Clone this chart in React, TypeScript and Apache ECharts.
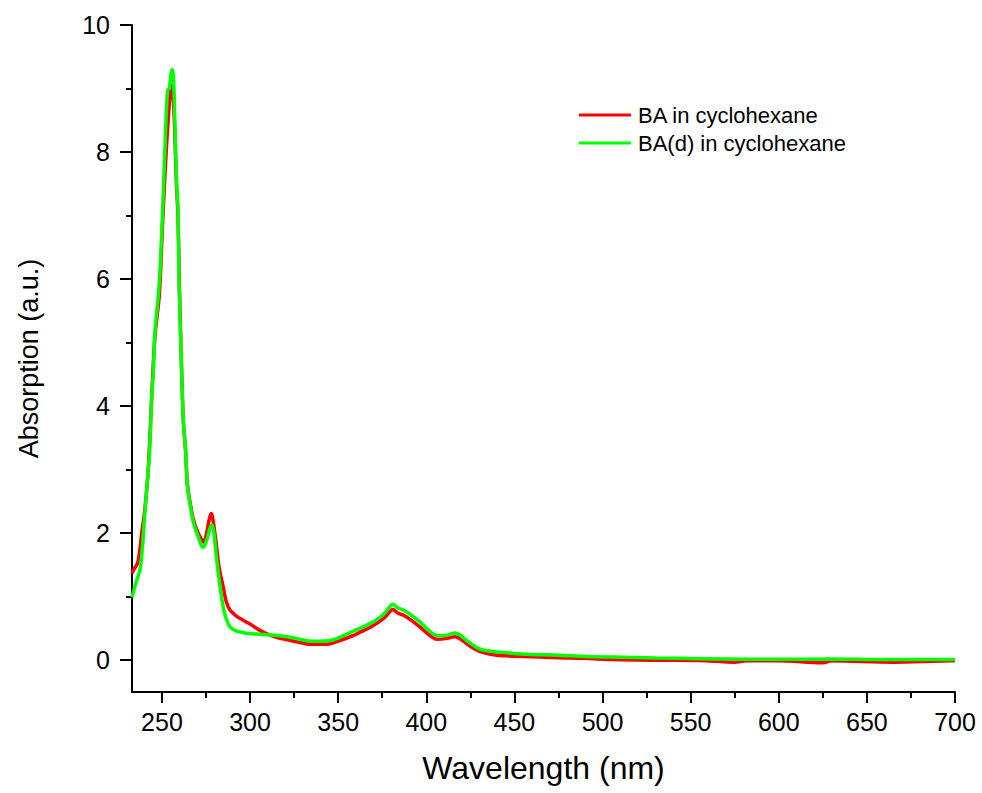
import React, { useEffect, useRef } from "react";
import * as echarts from "echarts";

const xTickValues = [250, 300, 350, 400, 450, 500, 550, 600, 650, 700];
const xMinorValues = [275, 325, 375, 425, 475, 525, 575, 625, 675];
const yTickValues = [0, 2, 4, 6, 8, 10];
const yMinorValues = [1, 3, 5, 7, 9];

const seriesNames = ["BA in cyclohexane", "BA(d) in cyclohexane"];

const baWavelength = [
  233, 234.5, 236.2, 237.5, 238.5, 240, 242.2, 244.1, 246, 248.5, 250.4, 252, 253.5, 254.7, 255.5, 256.3,
  257.3, 258.2, 259.1, 259.8, 261.1, 262.1, 263.4, 264.5, 266.8, 268.5, 270.6, 272.5, 273.4, 274.5, 276,
  277.3, 278.1, 279, 280.5, 282.5, 284.8, 286.5, 288.6, 292, 296.1, 300, 305.6, 310, 315, 319.8, 325, 330,
  334.1, 340, 345.5, 350, 355, 358.7, 363, 368.2, 373, 377, 381, 384, 387, 391, 396.5, 401, 406, 411, 416.4,
  419, 423, 428, 432.4, 440, 445.7, 449.5, 460, 475, 490, 506.2, 530, 555, 575, 581.8, 600, 625, 630, 665,
  699, 700,
];
const baAbsorption = [
  1.37, 1.45, 1.53, 1.75, 2.0, 2.3, 2.99, 4.09, 5.1, 5.75, 6.9, 7.8, 8.5, 8.93, 9.05, 8.9,
  8.3, 7.5, 7.0, 6.0, 4.6, 3.78, 3.3, 2.75, 2.35, 2.15, 2.0, 1.9, 1.86, 1.9, 2.1,
  2.27, 2.31, 2.2, 1.9, 1.45, 1.15, 0.92, 0.79, 0.7, 0.63, 0.57, 0.47, 0.41, 0.36, 0.33, 0.3, 0.27,
  0.25, 0.25, 0.26, 0.3, 0.35, 0.39, 0.45, 0.52, 0.6, 0.69, 0.8, 0.74, 0.71, 0.64, 0.52, 0.41, 0.33, 0.34, 0.37,
  0.34, 0.26, 0.17, 0.12, 0.08, 0.07, 0.063, 0.055, 0.04, 0.03, 0.01, 0.0, -0.005, -0.03, -0.01, -0.01, -0.04, -0.01, -0.03,
  -0.01, -0.01,
];

const badWavelength = [
  233, 235, 237.5, 239, 240, 242.2, 243, 244.1, 245, 246, 248.5, 250.4, 252, 253.2, 254.2, 255, 255.7,
  256.5, 257.3, 258.2, 259.1, 259.7, 261.1, 262.1, 263.4, 264.5, 266.8, 268.5, 270.6, 272.5, 273.4, 274.5,
  276, 277.5, 278.5, 279.5, 281, 283, 285, 286.7, 288.5, 291.4, 295, 299, 305.8, 310, 315, 320.9, 325, 330,
  334.1, 340, 345.5, 350, 355, 358.7, 363, 368.2, 373, 377, 381, 384, 387, 391, 396.5, 401, 406, 411, 416.4,
  419, 423, 428, 432.4, 440, 445.7, 449.5, 460, 475, 490, 506.2, 530, 555, 581.8, 600, 630, 660, 699, 700,
];
const badAbsorption = [
  0.99, 1.2, 1.42, 1.8, 2.2, 2.99, 3.3, 4.09, 4.5, 5.15, 5.94, 7.09, 8.3, 8.97, 9.0, 9.2, 9.3,
  9.2, 8.5, 7.6, 7.09, 5.94, 4.61, 3.78, 3.31, 2.73, 2.31, 2.1, 1.94, 1.8, 1.78, 1.82,
  1.95, 2.1, 2.13, 2.0, 1.6, 1.15, 0.8, 0.63, 0.53, 0.47, 0.44, 0.42, 0.41, 0.4, 0.39, 0.37, 0.35, 0.32,
  0.3, 0.3, 0.31, 0.35, 0.41, 0.46, 0.51, 0.58, 0.66, 0.76, 0.88, 0.82, 0.79, 0.72, 0.6, 0.48, 0.39, 0.39, 0.43,
  0.4, 0.31, 0.21, 0.16, 0.13, 0.12, 0.105, 0.09, 0.08, 0.06, 0.05, 0.035, 0.025, 0.016, 0.015, 0.02, 0.01, 0.01, 0.01,
];

const FONT = "'Liberation Sans', Arial, sans-serif";

export default function App() {
  const ref = useRef<HTMLDivElement>(null);
  useEffect(() => {
    if (!ref.current) return;
    const chart = echarts.init(ref.current, null, { renderer: "svg" });
    const baData = baWavelength.map((w, i) => [w, baAbsorption[i]]);
    const badData = badWavelength.map((w, i) => [w, badAbsorption[i]]);
    const axisLine = { show: true, onZero: false, lineStyle: { color: "#000", width: 2 } };
    chart.setOption({
      animation: false,
      backgroundColor: "#fff",
      textStyle: { fontFamily: FONT },
      grid: { left: 132, right: 27, top: 25, bottom: 101 },
      legend: {
        data: seriesNames,
        orient: "vertical",
        left: 574,
        top: 99,
        icon: "rect",
        itemWidth: 52,
        itemHeight: 3,
        itemGap: 6,
        textStyle: { fontSize: 22, color: "#000", fontFamily: FONT, padding: [0, 0, 0, 2] },
      },
      xAxis: [
        {
          type: "value",
          min: 233,
          max: 700,
          name: "Wavelength (nm)",
          nameLocation: "middle",
          nameGap: 60,
          nameTextStyle: { fontSize: 32, color: "#000", fontFamily: FONT },
          axisLine,
          axisTick: { show: true, length: 11, inside: false, customValues: xTickValues, lineStyle: { color: "#000", width: 2 } },
          axisLabel: { show: true, customValues: xTickValues, fontSize: 25, color: "#000", margin: 17, fontFamily: FONT },
          splitLine: { show: false },
        },
        {
          type: "value",
          min: 233,
          max: 700,
          position: "bottom",
          axisLine: { show: false, onZero: false },
          axisTick: { show: true, length: 6, customValues: xMinorValues, lineStyle: { color: "#000", width: 2 } },
          axisLabel: { show: false },
          splitLine: { show: false },
        },
      ],
      yAxis: [
        {
          type: "value",
          min: -0.5,
          max: 10,
          name: "Absorption (a.u.)",
          nameLocation: "middle",
          nameRotate: 90,
          nameGap: 90,
          nameTextStyle: { fontSize: 27, color: "#000", fontFamily: FONT },
          axisLine,
          axisTick: { show: true, length: 12, customValues: yTickValues, lineStyle: { color: "#000", width: 2 } },
          axisLabel: { show: true, customValues: yTickValues, fontSize: 25, color: "#000", margin: 22, fontFamily: FONT },
          splitLine: { show: false },
        },
        {
          type: "value",
          min: -0.5,
          max: 10,
          position: "left",
          axisLine: { show: false, onZero: false },
          axisTick: { show: true, length: 6, customValues: yMinorValues, lineStyle: { color: "#000", width: 2 } },
          axisLabel: { show: false },
          splitLine: { show: false },
        },
      ],
      series: [
        {
          name: seriesNames[0],
          type: "line",
          data: baData,
          showSymbol: false,
          symbol: "none",
          color: "#ff0000",
          lineStyle: { color: "#ff0000", width: 3.5 },
          smooth: 0.3,
          z: 2,
        },
        {
          name: seriesNames[1],
          type: "line",
          data: badData,
          showSymbol: false,
          symbol: "none",
          color: "#00ff00",
          lineStyle: { color: "#00ff00", width: 3.5 },
          smooth: 0.3,
          z: 3,
        },
      ],
    });
    return () => chart.dispose();
  }, []);
  return (
    <div
      ref={ref}
      style={{ position: "absolute", left: 0, top: 0, width: 982, height: 793 }}
    />
  );
}
